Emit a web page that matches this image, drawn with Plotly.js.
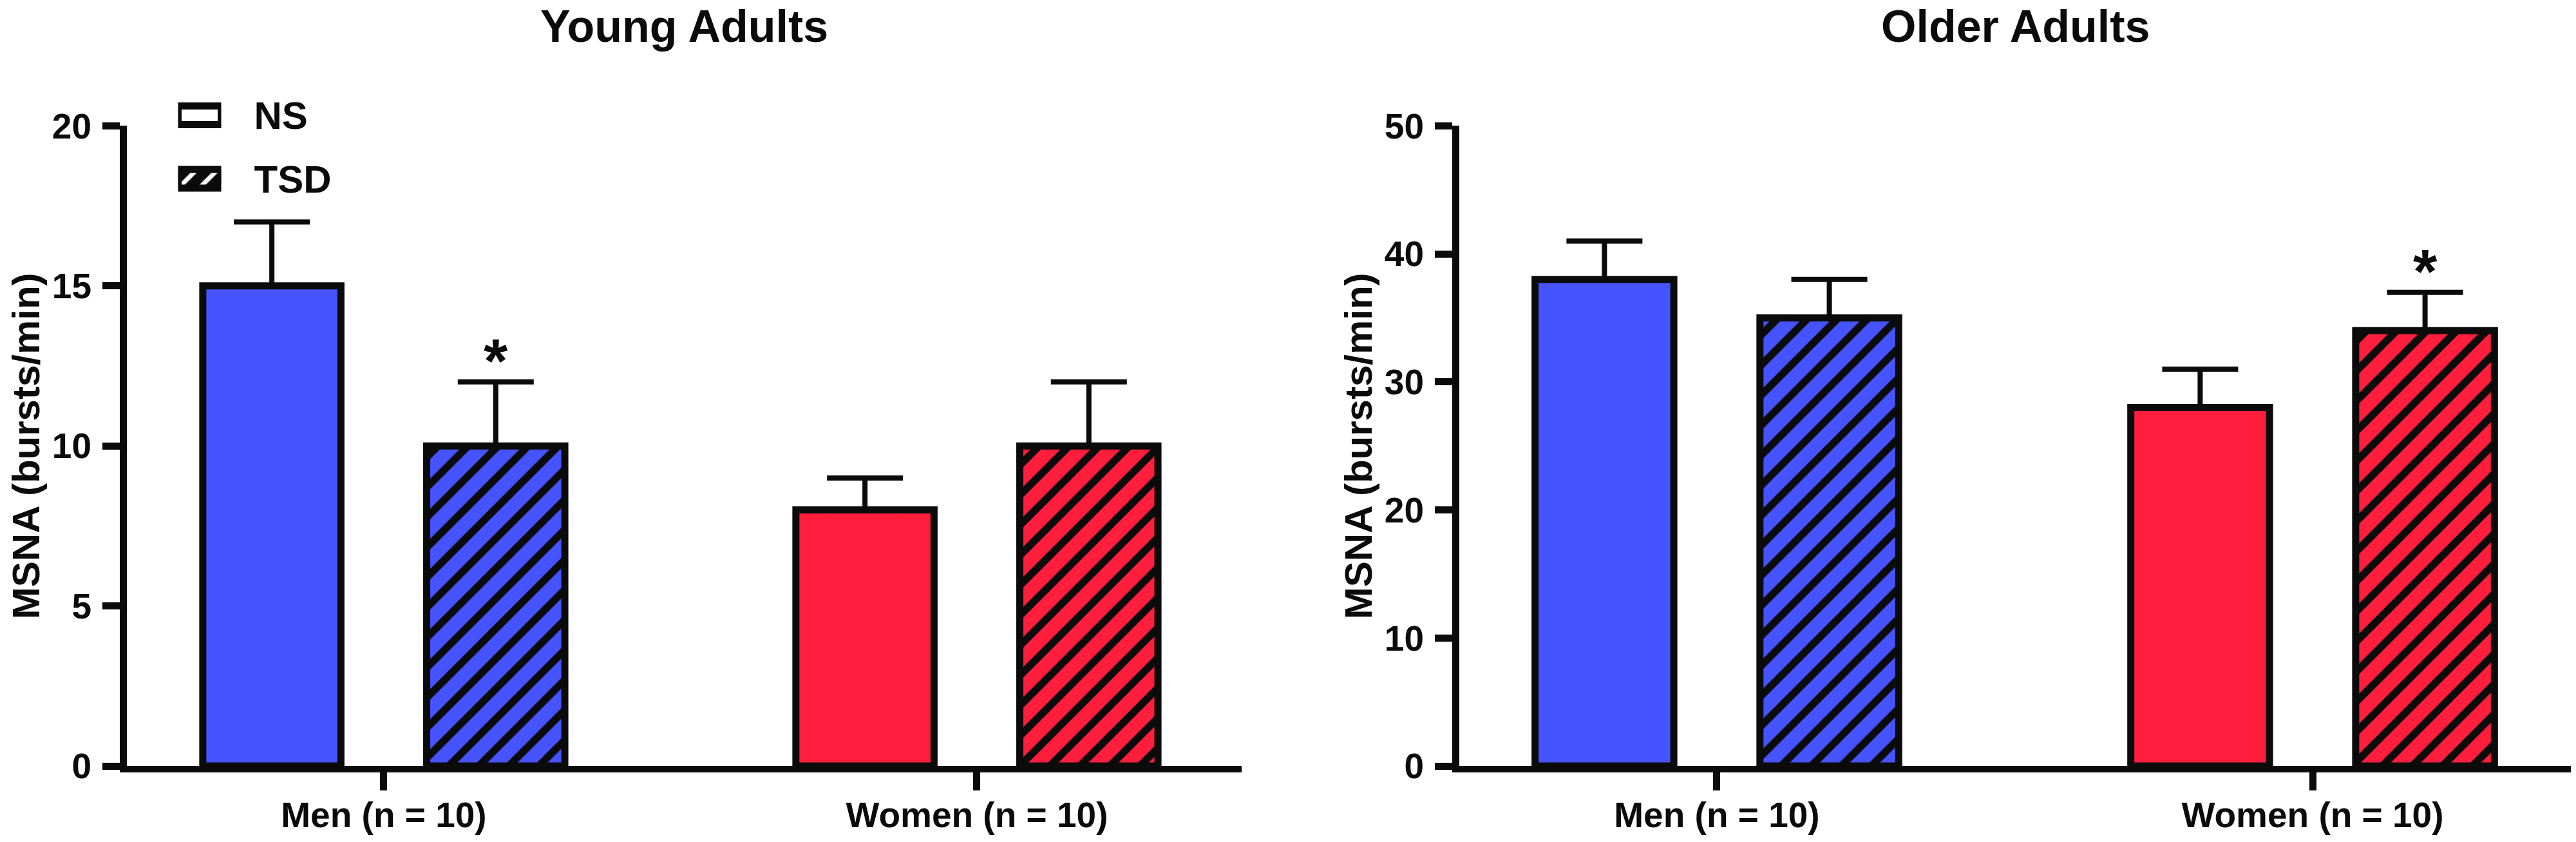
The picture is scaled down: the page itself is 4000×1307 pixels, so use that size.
<!DOCTYPE html>
<html>
<head>
<meta charset="utf-8">
<script src="https://cdn.plot.ly/plotly-3.0.1.min.js"></script>
<style>html,body{margin:0;padding:0;background:#fff;}#chart{width:4000px;height:1307px;}</style>
</head>
<body>
<div id="chart"></div>
<script>
// ---- data ----
const categories = ['Men (n = 10)', 'Women (n = 10)'];
const conditions = ['NS', 'TSD'];
const panelTitles = ['Young Adults', 'Older Adults'];
const yTitle = 'MSNA (bursts/min)';

const youngNS = [15, 8];
const youngNSerr = [2, 1];
const youngTSD = [10, 10];
const youngTSDerr = [2, 2];
const youngSig = [true, false];   // TSD vs NS

const olderNS = [38, 28];
const olderNSerr = [3, 3];
const olderTSD = [35, 34];
const olderTSDerr = [3, 3];
const olderSig = [false, true];

const youngYTicks = [0, 5, 10, 15, 20];
const olderYTicks = [0, 10, 20, 30, 40, 50];

// ---- style ----
const W = 4000, H = 1307;
const INK = '#0b0b0b';
const groupColors = ['#4654FF', '#FF1E3C'];
const FONT = 'Liberation Sans, Arial, Helvetica, sans-serif';
const BARGAP = 0.245, GROUPGAP = 0.383;
const px = v => v / W, py = v => 1 - v / H;

const yDom = [py(1189), py(195.4)];
const xDom1 = [px(197), px(1928)];
const xDom2 = [px(2266), px(3992)];

function errY(arr) {
  return {type: 'data', array: arr, arrayminus: arr.map(() => 0), symmetric: false,
          color: INK, thickness: 8, width: 59};
}
function panelTraces(ns, nsErr, tsd, tsdErr, xa, ya) {
  return [
    {type: 'bar', name: conditions[0], x: categories, y: ns, xaxis: xa, yaxis: ya,
     marker: {color: groupColors, line: {color: INK, width: 11}},
     error_y: errY(nsErr), hoverinfo: 'x+y+name'},
    {type: 'bar', name: conditions[1], x: categories, y: tsd, xaxis: xa, yaxis: ya,
     marker: {color: INK, line: {color: INK, width: 11},
              pattern: {shape: '/', fillmode: 'replace', bgcolor: groupColors, fgcolor: INK,
                        fgopacity: 1, size: 33, solidity: 0.35}},
     error_y: errY(tsdErr), hoverinfo: 'x+y+name'}
  ];
}

const traces = [
  ...panelTraces(youngNS, youngNSerr, youngTSD, youngTSDerr, 'x', 'y'),
  ...panelTraces(olderNS, olderNSerr, olderTSD, olderTSDerr, 'x2', 'y2'),
  // legend swatches
  {type: 'bar', orientation: 'h', x: conditions.map(() => 1), y: conditions,
   xaxis: 'x3', yaxis: 'y3', width: 0.294, cliponaxis: false, hoverinfo: 'skip',
   marker: {color: '#ffffff', line: {color: INK, width: 11},
            pattern: {shape: ['', '/'], fillmode: 'replace', fgcolor: '#ffffff', bgcolor: ['#ffffff', INK],
                      fgopacity: 1, size: 23, solidity: 0.3}}}
];

function xAxis(dom, range) {
  return {domain: dom, type: 'category', range: range, showline: true, linewidth: 10, linecolor: INK,
          ticks: 'outside', ticklen: 28, tickwidth: 11, tickcolor: INK, ticklabelstandoff: -9,
          tickfont: {family: FONT, size: 55, weight: 'bold', color: INK},
          showgrid: false, zeroline: false, fixedrange: true};
}
function yAxis(anchor, ticks) {
  return {domain: yDom, anchor: anchor, range: [0, ticks[ticks.length - 1]], tickvals: ticks,
          showline: true, linewidth: 11, linecolor: INK,
          ticks: 'outside', ticklen: 27, tickwidth: 11, tickcolor: INK, ticklabelstandoff: 6,
          tickfont: {family: FONT, size: 55, weight: 'bold', color: INK},
          showgrid: false, zeroline: false, fixedrange: true};
}

const slot = (1 - BARGAP) / 2;
const starOff = slot / 2;
const annotations = [];
[[xDom1, 0], [xDom2, 1]].forEach(([dom, i]) => {
  annotations.push({xref: 'paper', yref: 'paper', x: (dom[0] + dom[1]) / 2, y: py(0),
    xanchor: 'center', yanchor: 'top', showarrow: false, text: panelTitles[i],
    font: {family: FONT, size: 70, weight: 'bold', color: INK}});
  annotations.push({xref: 'paper', yref: 'paper', x: dom[0] - px(157), y: (yDom[0] + yDom[1]) / 2,
    xanchor: 'center', yanchor: 'middle', showarrow: false, text: yTitle, textangle: -90,
    font: {family: FONT, size: 60, weight: 'bold', color: INK}});
});
[[youngSig, youngTSD, youngTSDerr, 'x', 'y'], [olderSig, olderTSD, olderTSDerr, 'x2', 'y2']].forEach(([sig, v, e, xa, ya]) => {
  sig.forEach((s, k) => {
    if (!s) return;
    annotations.push({xref: xa, yref: ya, x: k + starOff, y: v[k] + e[k], yshift: 33,
      xanchor: 'center', yanchor: 'middle', showarrow: false, text: '*',
      font: {family: FONT, size: 96, weight: 'bold', color: INK}});
  });
});

const layout = {
  width: W, height: H, margin: {l: 0, r: 0, t: 0, b: 0},
  paper_bgcolor: '#ffffff', plot_bgcolor: '#ffffff', showlegend: false,
  barmode: 'group', bargap: BARGAP, bargroupgap: GROUPGAP,
  xaxis: xAxis(xDom1, [-0.4332, 1.4463]),
  yaxis: yAxis('x', youngYTicks),
  xaxis2: xAxis(xDom2, [-0.4324, 1.4335]),
  yaxis2: yAxis('x2', olderYTicks),
  xaxis3: {domain: [px(276.5), px(343.5)], anchor: 'y3', range: [0, 1], visible: false, fixedrange: true},
  yaxis3: {domain: [py(326.75), py(129.75)], anchor: 'x3', type: 'category', range: [1.5, -0.5],
           side: 'right', showline: false, ticks: '', showgrid: false, zeroline: false, fixedrange: true,
           ticklabelstandoff: 50, tickfont: {family: FONT, size: 60, weight: 'bold', color: INK}},
  annotations: annotations
};

Plotly.newPlot('chart', traces, layout, {staticPlot: true, displayModeBar: false});
</script>
</body>
</html>
